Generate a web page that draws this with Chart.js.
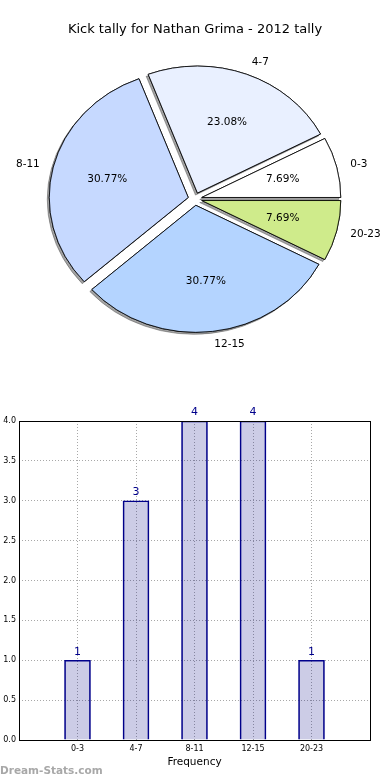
<!DOCTYPE html>
<html>
<head>
<meta charset="utf-8">
<script src="https://cdn.jsdelivr.net/npm/chart.js@4"></script>
<style>
html, body { margin: 0; padding: 0; background: #fff; }
#wrap { position: relative; width: 390px; height: 780px; }
#pieChart { position: absolute; left: 0; top: 0; }
#barChart { position: absolute; left: 0; top: 398px; }
</style>
</head>
<body>
<div id="wrap">
  <canvas id="pieChart" width="390" height="398"></canvas>
  <canvas id="barChart" width="390" height="382"></canvas>
</div>
<script>
// data
const categories = ['0-3', '4-7', '8-11', '12-15', '20-23'];
const kicks = [1, 3, 4, 4, 1];
const yMax = 4;
const yStep = 0.5;

// styles
const sliceColors = ['#ffffff', '#e9f0ff', '#c6d9ff', '#b4d4ff', '#cfeb8b'];
const FONT = '"DejaVu Sans", sans-serif';

Chart.defaults.font.family = FONT;
Chart.defaults.color = '#000';

const total = kicks.reduce((a, b) => a + b, 0);

// matplotlib goes counter clockwise from 3 o'clock, chart.js goes clockwise
const pieLabels = categories.slice().reverse();
const pieValues = kicks.slice().reverse();
const pieColors = sliceColors.slice().reverse();

const R = 127;             // vertical radius
const SX = 139 / 127;      // pie is stretched a bit horizontally
const EXPLODE = 0.05 * R;

const explodePie = {
    id: 'explodePie',
    beforeDatasetDraw(chart, args) {
        const ctx = chart.ctx;
        const arcs = args.meta.data;
        const drawAll = () => arcs.forEach(arc => {
            const mid = (arc.startAngle + arc.endAngle) / 2;
            ctx.save();
            ctx.translate(arc.x, arc.y);
            ctx.scale(SX, 1);
            ctx.translate(-arc.x, -arc.y);
            ctx.translate(Math.cos(mid) * EXPLODE, Math.sin(mid) * EXPLODE);
            arc.draw(ctx);
            ctx.restore();
        });
        // shadows first, then wedges again on top
        ctx.save();
        ctx.shadowColor = 'rgba(50,50,50,0.45)';
        ctx.shadowOffsetX = -2;
        ctx.shadowOffsetY = 2;
        drawAll();
        ctx.restore();
        drawAll();
        return false;
    },
    afterDraw(chart) {
        const ctx = chart.ctx;
        const arcs = chart.getDatasetMeta(0).data;
        ctx.save();
        ctx.font = '10.5px ' + FONT;
        ctx.fillStyle = '#000';
        ctx.textBaseline = 'middle';
        arcs.forEach((arc, i) => {
            const mid = (arc.startAngle + arc.endAngle) / 2;
            const c = Math.cos(mid), s = Math.sin(mid);
            const at = k => [
                arc.x + c * (EXPLODE + k * arc.outerRadius) * SX,
                arc.y + s * (EXPLODE + k * arc.outerRadius)
            ];
            let [x, y] = at(1.1);
            ctx.textAlign = c > 0 ? 'left' : 'right';
            ctx.fillText(pieLabels[i], x, y);
            [x, y] = at(0.6);
            ctx.textAlign = 'center';
            ctx.fillText((pieValues[i] / total * 100).toFixed(2) + '%', x, y);
        });
        ctx.restore();
    }
};

new Chart(document.getElementById('pieChart'), {
    type: 'pie',
    data: {
        labels: pieLabels,
        datasets: [{
            data: pieValues,
            backgroundColor: pieColors,
            borderColor: '#000',
            borderWidth: 0.8
        }]
    },
    options: {
        responsive: false,
        animation: false,
        events: [],
        radius: R,
        rotation: 90,
        layout: { padding: { bottom: 37.6 } },
        plugins: {
            legend: { display: false },
            tooltip: { enabled: false },
            title: {
                display: true,
                text: 'Kick tally for Nathan Grima - 2012 tally',
                font: { size: 13, weight: 'normal' },
                padding: { top: 22, bottom: 0 }
            }
        }
    },
    plugins: [explodePie]
});

const frame = {
    id: 'frame',
    afterDraw(chart) {
        const ctx = chart.ctx;
        const a = chart.chartArea;
        ctx.save();
        ctx.strokeStyle = '#000';
        ctx.lineWidth = 1;
        ctx.strokeRect(Math.round(a.left) + 0.5, Math.round(a.top) + 0.5,
            Math.round(a.width), Math.round(a.height));
        ctx.restore();
    }
};

const barLabels = {
    id: 'barLabels',
    afterDatasetsDraw(chart) {
        const ctx = chart.ctx;
        ctx.save();
        ctx.font = '11px ' + FONT;
        ctx.fillStyle = '#00008b';
        ctx.textAlign = 'center';
        ctx.textBaseline = 'bottom';
        chart.getDatasetMeta(0).data.forEach((bar, i) => {
            ctx.fillText(kicks[i], bar.x, bar.y - 3);
        });
        ctx.restore();
    }
};

const watermark = {
    id: 'watermark',
    afterDraw(chart) {
        const ctx = chart.ctx;
        ctx.save();
        ctx.font = 'bold 10.5px ' + FONT;
        ctx.fillStyle = '#a8a8a8';
        ctx.textAlign = 'left';
        ctx.textBaseline = 'middle';
        ctx.fillText('Dream-Stats.com', 0, 373);
        ctx.restore();
    }
};

const gridOpts = { color: '#a8a8a8', lineWidth: 1, drawTicks: false, offset: false };
const borderOpts = { display: false, dash: [1, 2] };

new Chart(document.getElementById('barChart'), {
    type: 'bar',
    data: {
        datasets: [{
            data: kicks.map((v, i) => ({ x: i, y: v })),
            backgroundColor: 'rgba(0,0,128,0.2)',
            borderColor: '#00008b',
            borderWidth: 1,
            barThickness: 26
        }]
    },
    options: {
        responsive: false,
        animation: false,
        events: [],
        layout: { padding: { top: 23, right: 20, left: 0, bottom: 0 } },
        plugins: {
            legend: { display: false },
            tooltip: { enabled: false }
        },
        scales: {
            x: {
                type: 'linear',
                min: -1,
                max: categories.length,
                offset: false,
                grid: gridOpts,
                border: borderOpts,
                ticks: {
                    stepSize: 1,
                    autoSkip: false,
                    maxRotation: 0,
                    padding: 4,
                    font: { size: 8 },
                    callback: v => categories[v] ?? ''
                },
                title: {
                    display: true,
                    text: 'Frequency',
                    font: { size: 10.5 },
                    padding: { top: 2, bottom: 11 }
                },
                afterFit: s => { s.height = 40; }
            },
            y: {
                min: 0,
                max: yMax,
                grid: gridOpts,
                border: borderOpts,
                ticks: {
                    stepSize: yStep,
                    padding: 3,
                    font: { size: 8 },
                    callback: v => v.toFixed(1)
                },
                afterFit: s => { s.width = 19; }
            }
        }
    },
    plugins: [frame, barLabels, watermark]
});
</script>
</body>
</html>
